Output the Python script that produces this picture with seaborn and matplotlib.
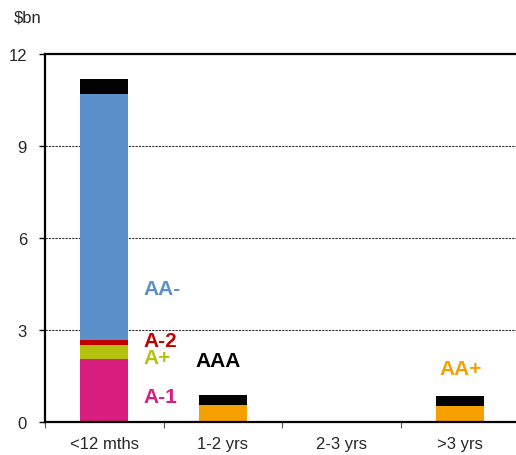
import matplotlib
matplotlib.use("Agg")
import matplotlib.pyplot as plt
import seaborn as sns
import numpy as np
import pandas as pd

categories = ["<12 mths", "1-2 yrs", "2-3 yrs", ">3 yrs"]
a_minus_1 = [2.05, 0.0, 0.0, 0.0]
a_plus = [0.46, 0.0, 0.0, 0.0]
a_minus_2 = [0.17, 0.0, 0.0, 0.0]
aa_minus = [8.02, 0.0, 0.0, 0.0]
aa = [0.0, 0.0, 0.0, 0.02]
aa_plus = [0.0, 0.56, 0.0, 0.51]
aaa = [0.49, 0.33, 0.0, 0.31]

series_names = ["A-1", "A+", "A-2", "AA-", "AA", "AA+", "AAA"]
series_vals = [a_minus_1, a_plus, a_minus_2, aa_minus, aa, aa_plus, aaa]
colors = ["#d81e7f", "#b4c10f", "#c00000", "#5b8fc9", "#1f8f8f", "#f5a000", "#000000"]

sns.set_theme(style="white")
plt.rcParams["font.family"] = ["Liberation Sans", "DejaVu Sans"]

fig = plt.figure(figsize=(5.16, 4.56), dpi=100)
ax = fig.add_axes([45/516, 1-423/456, 471/516, (423-55)/456])

df = pd.DataFrame({n: v for n, v in zip(series_names, series_vals)}, index=categories)
cum = df.cumsum(axis=1)
for name, col in reversed(list(zip(series_names, colors))):
    d = pd.DataFrame({"cat": categories, "val": cum[name].values})
    sns.barplot(data=d, x="cat", y="val", color=col, width=0.405,
                saturation=1, ax=ax, order=categories, linewidth=0)

ax.set_xlim(-0.5, -0.5 + 471/118.5)
ax.set_ylim(0, 12)
ax.set_yticks([0, 3, 6, 9, 12])
ax.set_yticklabels(["0", "3", "6", "9", "12"], fontsize=12)
ax.set_xticks(range(4))
ax.set_xticklabels(categories, fontsize=12)
ax.set_xticks([-0.5, 0.5, 1.5, 2.5], minor=True)
ax.tick_params(axis="x", which="major", length=0, pad=10)
ax.tick_params(axis="x", which="minor", length=4, width=0.8, color="#555555", direction="out", bottom=True)
ax.tick_params(axis="y", length=4, width=1, color="black", direction="out", left=True, pad=9)
ax.set_xlabel("")
ax.set_ylabel("")
for yv in [3, 6, 9]:
    ax.axhline(yv, color="#333333", linewidth=0.8, linestyle=(0, (2, 1)), zorder=0)
ax.spines["right"].set_visible(False)
for s in ["left", "bottom", "top"]:
    ax.spines[s].set_color("black")
    ax.spines[s].set_linewidth(1.6)

labels = [("AA-", 0.33, 4.34, "#5b8fc9"), ("A-2", 0.33, 2.67, "#c00000"),
          ("A+", 0.33, 2.09, "#b4c10f"), ("A-1", 0.33, 0.82, "#d81e7f"),
          ("AAA", 0.77, 1.99, "#000000"), ("AA+", 2.83, 1.76, "#f5a000")]
for t, x, y, c in labels:
    ax.text(x, y, t, color=c, fontsize=15, fontweight="bold", ha="left", va="center")

fig.text(14/516, 1-18/456, "$bn", fontsize=12, ha="left", va="center")

fig.savefig("out.png", dpi=100)
